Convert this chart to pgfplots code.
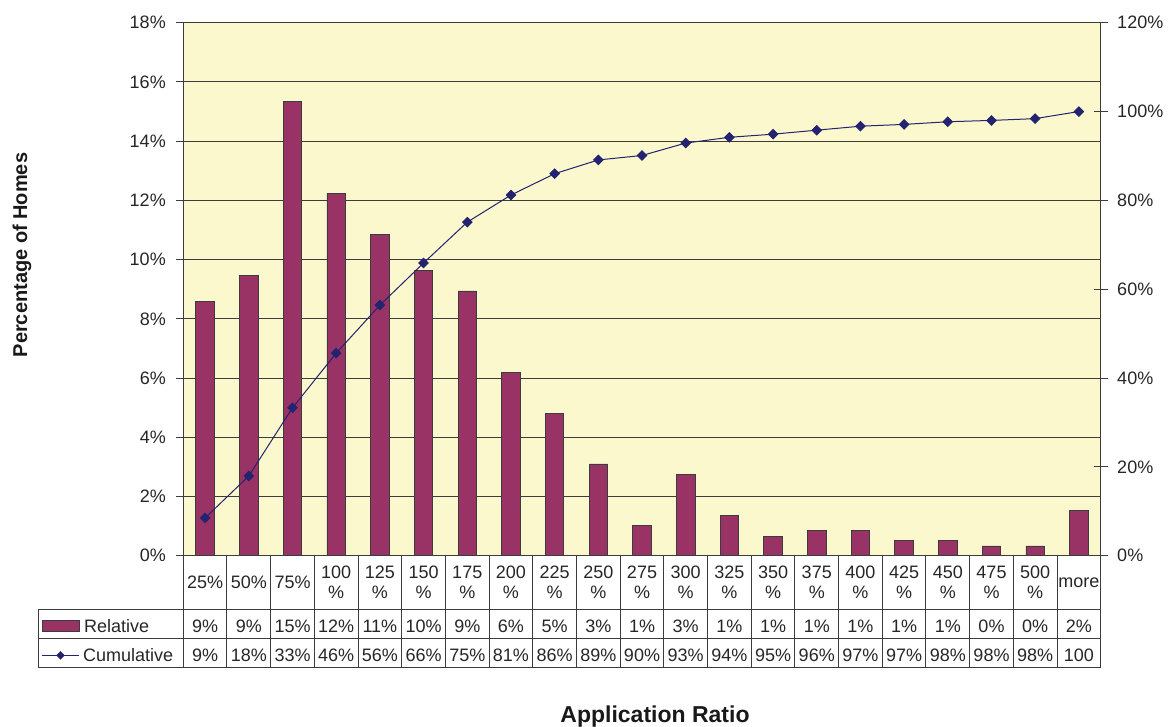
\documentclass[border=0pt]{standalone}
\usepackage{pgfplots}
\pgfplotsset{compat=1.18}
\usepackage{fontspec}
\setmainfont{Liberation Sans}

\definecolor{barplum}{RGB}{153,51,102}
\definecolor{linenavy}{RGB}{35,35,111}
\definecolor{plotbg}{RGB}{251,248,206}
\definecolor{rule}{RGB}{60,60,60}
\newcommand{\tf}{\fontsize{18}{20}\selectfont}

% relative share of homes per application ratio bin (%)
\pgfplotstableread{
x rel
0 8.59
1 9.46
2 15.34
3 12.23
4 10.84
5 9.63
6 8.94
7 6.19
8 4.81
9 3.10
10 1.01
11 2.74
12 1.35
13 0.66
14 0.84
15 0.84
16 0.50
17 0.50
18 0.33
19 0.33
20 1.53
}\reltab

% cumulative share (%)
\pgfplotstableread{
x cum
0 8.5
1 17.95
2 33.3
3 45.6
4 56.4
5 65.9
6 75.1
7 81.2
8 86.0
9 89.1
10 90.1
11 92.9
12 94.2
13 94.9
14 95.8
15 96.7
16 97.1
17 97.7
18 98.0
19 98.4
20 100.0
}\cumtab

\pgfplotsset{
  every tick label/.append style={font=\tf, text=black!85},
  /pgf/number format/assume math mode=true,
}

\begin{document}
\begin{tikzpicture}[x=1pt,y=1pt]
\path[use as bounding box] (0,0) rectangle (1169,726);

\begin{axis}[
  at={(183.3pt,170.3pt)}, anchor=south west,
  scale only axis, width=917.4pt, height=533pt,
  xmin=-0.5, xmax=20.5, ymin=0, ymax=18,
  axis x line*=bottom, axis y line*=left,
  axis line style={-, rule, line width=1pt},
  xtick=\empty,
  ytick={0,2,...,18},
  yticklabel={\pgfmathprintnumber{\tick}\%},
  yticklabel style={xshift=-7pt},
  tick align=center, major tick length=14pt,
  tick style={rule, line width=1pt},
  ymajorgrids, grid style={rule, line width=1pt},
  axis background/.style={fill=plotbg},
  clip=false,
]
\addplot[ybar, bar width=18.5pt, fill=barplum, draw=rule, line width=0.8pt]
  table[x=x, y=rel] {\reltab};
\end{axis}

\begin{axis}[
  at={(183.3pt,170.3pt)}, anchor=south west,
  scale only axis, width=917.4pt, height=533pt,
  xmin=-0.5, xmax=20.5, ymin=0, ymax=120,
  axis x line=none, axis y line*=right,
  axis line style={-, rule, line width=1pt},
  ytick={0,20,...,120},
  yticklabel={\pgfmathprintnumber{\tick}\%},
  yticklabel style={xshift=6pt},
  tick align=center, major tick length=14pt,
  tick style={rule, line width=1pt},
]
\addplot[linenavy, line width=1pt, mark=square*, mark size=3.3pt,
  mark options={fill=linenavy, draw=linenavy, rotate=45}]
  table[x=x, y=cum] {\cumtab};
\end{axis}

% data table under the chart
\def\cw{43.686}
\begin{scope}[rule, line width=1pt]
  \draw (38.3,116.7) -- (1100.7,116.7);
  \draw (38.3,87.3) -- (1100.7,87.3);
  \draw (38.3,58.7) -- (1100.7,58.7);
  \draw (38.3,116.7) -- (38.3,58.7);
  \foreach \i in {0,...,21} {
    \draw ({183.3+\cw*\i},170.3) -- ({183.3+\cw*\i},58.7);
  }
\end{scope}

\foreach \lab [count=\i from 0] in {25\%,50\%,75\%,100\\\%,125\\\%,150\\\%,175\\\%,200\\\%,225\\\%,250\\\%,275\\\%,300\\\%,325\\\%,350\\\%,375\\\%,400\\\%,425\\\%,450\\\%,475\\\%,500\\\%,more}
  \node[font=\tf, text=black!85, align=center, inner sep=0pt, anchor=center]
    at ({183.3+\cw*(\i+0.5)},143.5) {\lab};

\foreach \v [count=\i from 0] in {9,9,15,12,11,10,9,6,5,3,1,3,1,1,1,1,1,1,0,0,2}
  \node[font=\tf, text=black!85, inner sep=0pt, anchor=base]
    at ({183.3+\cw*(\i+0.5)},93.3) {\v\%};

\foreach \v [count=\i from 0] in {9\%,18\%,33\%,46\%,56\%,66\%,75\%,81\%,86\%,89\%,90\%,93\%,94\%,95\%,96\%,97\%,97\%,98\%,98\%,98\%,100}
  \node[font=\tf, text=black!85, inner sep=0pt, anchor=base]
    at ({183.3+\cw*(\i+0.5)},64.3) {\v};

% legend keys in the table
\filldraw[fill=barplum, draw=rule, line width=0.8pt] (42,94.3) rectangle (79,105.3);
\node[font=\tf, text=black!85, inner sep=0pt, anchor=base west] at (84,93.3) {Relative};
\draw[linenavy, line width=1pt] (42,70.7) -- (79,70.7);
\fill[linenavy] (60.5,75) -- (64.8,70.7) -- (60.5,66.4) -- (56.2,70.7) -- cycle;
\node[font=\tf, text=black!85, inner sep=0pt, anchor=base west] at (83,64.3) {Cumulative};

% axis titles
\node[font=\fontsize{20}{24}\selectfont\bfseries, text=black!90, rotate=90, anchor=center]
  at (22,471) {Percentage of Homes};
\node[font=\fontsize{23}{26}\selectfont\bfseries, text=black!90, anchor=base]
  at (655,3.7) {Application Ratio};
\end{tikzpicture}
\end{document}
